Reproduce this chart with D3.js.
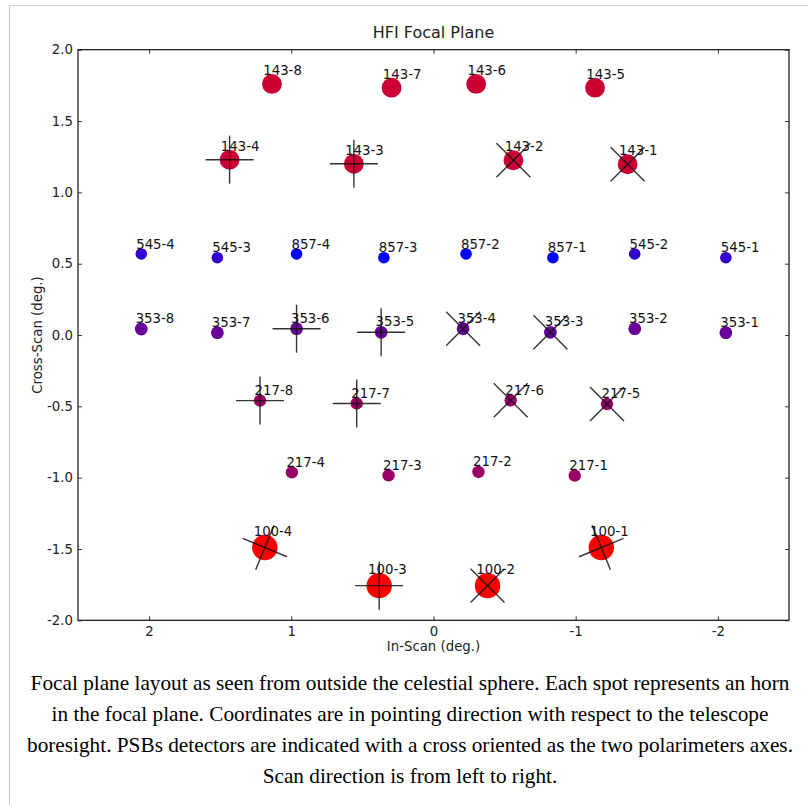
<!DOCTYPE html>
<html>
<head>
<meta charset="utf-8">
<script src="https://cdn.jsdelivr.net/npm/d3@7"></script>
<style>
  html, body { margin: 0; padding: 0; background: #fff; }
  svg { display: block; }
  .axis text { font-family: "DejaVu Sans", sans-serif; font-size: 13.3px; fill: #222; }
</style>
</head>
<body>
<svg id="chart" width="808" height="805"></svg>
<script>
// HFI horns: name, in-scan / cross-scan position (deg), PSB cross orientation (deg, null = spider-web bolometer)
const detectors = [
  "143-8", "143-7", "143-6", "143-5", "143-4", "143-3", "143-2", "143-1",
  "545-4", "545-3", "857-4", "857-3", "857-2", "857-1", "545-2", "545-1",
  "353-8", "353-7", "353-6", "353-5", "353-4", "353-3", "353-2", "353-1",
  "217-8", "217-7", "217-6", "217-5", "217-4", "217-3", "217-2", "217-1",
  "100-4", "100-3", "100-2", "100-1"
];
const inScan = [
  1.136, 0.295, -0.300, -1.136, 1.434, 0.560, -0.562, -1.365,
  2.055, 1.520, 0.963, 0.349, -0.229, -0.840, -1.415, -2.056,
  2.055, 1.520, 0.963, 0.368, -0.208, -0.822, -1.415, -2.056,
  1.220, 0.540, -0.543, -1.220, 0.996, 0.316, -0.316, -0.993,
  1.186, 0.382, -0.380, -1.180
];
const crossScan = [
  1.760, 1.734, 1.760, 1.734, 1.229, 1.200, 1.225, 1.197,
  0.568, 0.542, 0.568, 0.542, 0.568, 0.542, 0.568, 0.542,
  0.042, 0.016, 0.044, 0.019, 0.044, 0.019, 0.044, 0.016,
  -0.460, -0.480, -0.458, -0.484, -0.963, -0.984, -0.960, -0.985,
  -1.490, -1.757, -1.757, -1.490
];
const psbAngle = [
  null, null, null, null, 0, 0, 45, 45,
  null, null, null, null, null, null, null, null,
  null, null, 0, 0, 45, 45, null, null,
  0, 0, 45, 45, null, null, null, null,
  22.5, 0, 45, -22.5
];
const xTicks = [2, 1, 0, -1, -2];
const yTicks = [2.0, 1.5, 1.0, 0.5, 0.0, -0.5, -1.0, -1.5, -2.0];
const captionLines = [
  "Focal plane layout as seen from outside the celestial sphere. Each spot represents an horn",
  "in the focal plane. Coordinates are in pointing direction with respect to the telescope",
  "boresight. PSBs detectors are indicated with a cross oriented as the two polarimeters axes.",
  "Scan direction is from left to right."
];

// per-band marker style
const bandColor = { "857": "#0000ff", "545": "#3300cc", "353": "#660099",
                    "217": "#990066", "143": "#cc0033", "100": "#ff0000" };
const bandRadius = { "857": 5.8, "545": 5.8, "353": 6.4, "217": 6.2, "143": 9.9, "100": 12.7 };

// pick the first installed serif face for the caption
function firstInstalled(families) {
  const ctx = document.createElement("canvas").getContext("2d");
  const probe = "Focal plane layout WMwmil1 0123";
  const width = f => { ctx.font = "40px " + f; return ctx.measureText(probe).width; };
  const baseMono = width("monospace"), baseSans = width("sans-serif");
  for (const f of families) {
    if (width(`"${f}", monospace`) !== baseMono || width(`"${f}", sans-serif`) !== baseSans) return `"${f}"`;
  }
  return "serif";
}
const captionFont = firstInstalled(["Liberation Serif", "Times New Roman", "Tinos", "DejaVu Serif",
  "Noto Serif", "FreeSerif", "Nimbus Roman", "Nimbus Roman No9 L", "Times"]);

const svg = d3.select("#chart");
svg.append("rect").attr("width", 808).attr("height", 805).attr("fill", "#fff");

// thumbnail frame
svg.append("path")
  .attr("d", "M9.5,805 V5.5 H808")
  .attr("fill", "none").attr("stroke", "#cccccc").attr("stroke-width", 1);

const plotL = 78, plotR = 789, plotT = 49.7, plotB = 620.3;
const x = d3.scaleLinear().domain([2.5, -2.5]).range([plotL, plotR]);
const y = d3.scaleLinear().domain([-2, 2]).range([plotB, plotT]);

const data = detectors.map((name, i) => ({
  name, band: name.split("-")[0], x: inScan[i], y: crossScan[i], ang: psbAngle[i]
}));

// axes: ticks point inward on all four sides, labels only on bottom and left
const tickLen = 4;
const gx = svg.append("g").attr("class", "axis").attr("transform", `translate(0,${plotB})`)
  .call(d3.axisBottom(x).tickValues(xTicks).tickFormat(d3.format("d")).tickSizeInner(-tickLen).tickSizeOuter(0).tickPadding(6));
const gy = svg.append("g").attr("class", "axis").attr("transform", `translate(${plotL},0)`)
  .call(d3.axisLeft(y).tickValues(yTicks).tickFormat(d3.format(".1f")).tickSizeInner(-tickLen).tickSizeOuter(0).tickPadding(5));
const gxt = svg.append("g").attr("class", "axis").attr("transform", `translate(0,${plotT})`)
  .call(d3.axisTop(x).tickValues(xTicks).tickFormat("").tickSizeInner(-tickLen).tickSizeOuter(0));
const gyr = svg.append("g").attr("class", "axis").attr("transform", `translate(${plotR},0)`)
  .call(d3.axisRight(y).tickValues(yTicks).tickFormat("").tickSizeInner(-tickLen).tickSizeOuter(0));
[gx, gy, gxt, gyr].forEach(g => {
  g.select(".domain").remove();
  g.selectAll(".tick line").attr("stroke", "#333").attr("stroke-width", 1);
});
// plain hyphen-minus in tick labels
gx.selectAll(".tick text").text(d => String(d)).attr("dy", "0.71em");
gy.selectAll(".tick text").text(d => d.toFixed(1));

// plot frame
svg.append("rect")
  .attr("x", plotL).attr("y", plotT).attr("width", plotR - plotL).attr("height", plotB - plotT)
  .attr("fill", "none").attr("stroke", "#222").attr("stroke-width", 1.3);

// horns
svg.append("g").selectAll("circle").data(data).join("circle")
  .attr("cx", d => x(d.x)).attr("cy", d => y(d.y))
  .attr("r", d => bandRadius[d.band])
  .attr("fill", d => bandColor[d.band]);

// polarimeter axes for PSB horns
const armPx = 24;
svg.append("g").selectAll("g").data(data.filter(d => d.ang !== null)).join("g")
  .attr("transform", d => `translate(${x(d.x)},${y(d.y)}) rotate(${d.ang})`)
  .each(function () {
    const g = d3.select(this);
    g.append("line").attr("x1", -armPx).attr("x2", armPx).attr("y1", 0).attr("y2", 0);
    g.append("line").attr("y1", -armPx).attr("y2", armPx).attr("x1", 0).attr("x2", 0);
  })
  .selectAll("line").attr("stroke", "#111").attr("stroke-opacity", 0.85).attr("stroke-width", 1.4);

// horn names
svg.append("g").selectAll("text").data(data).join("text")
  .attr("x", d => x(d.x) - 0.88 * bandRadius[d.band])
  .attr("y", d => y(d.y) - 0.92 * bandRadius[d.band])
  .attr("font-family", "DejaVu Sans, sans-serif").attr("font-size", 13.3).attr("fill", "#111")
  .text(d => d.name);

// title and axis titles
svg.append("text").attr("x", (plotL + plotR) / 2).attr("y", 38)
  .attr("text-anchor", "middle").attr("font-family", "DejaVu Sans, sans-serif")
  .attr("font-size", 16).attr("fill", "#222").text("HFI Focal Plane");
svg.append("text").attr("x", (plotL + plotR) / 2).attr("y", 651)
  .attr("text-anchor", "middle").attr("font-family", "DejaVu Sans, sans-serif")
  .attr("font-size", 13.3).attr("fill", "#222").text("In-Scan (deg.)");
svg.append("text").attr("transform", `translate(42,${(plotT + plotB) / 2}) rotate(-90)`)
  .attr("text-anchor", "middle").attr("font-family", "DejaVu Sans, sans-serif")
  .attr("font-size", 13.3).attr("fill", "#222").text("Cross-Scan (deg.)");

// caption: serif block, font size fitted so the first line spans the figure width
const capWidth = 759;
const capText = svg.append("g").selectAll("text").data(captionLines).join("text")
  .attr("x", 410).attr("y", (d, i) => 690 + i * 31)
  .attr("text-anchor", "middle")
  .style("font-family", captionFont)
  .attr("font-size", 20).attr("fill", "#000")
  .text(d => d);
const w0 = capText.nodes()[0].getComputedTextLength();
capText.attr("font-size", Math.min(24, 20 * capWidth / w0));
</script>
</body>
</html>
